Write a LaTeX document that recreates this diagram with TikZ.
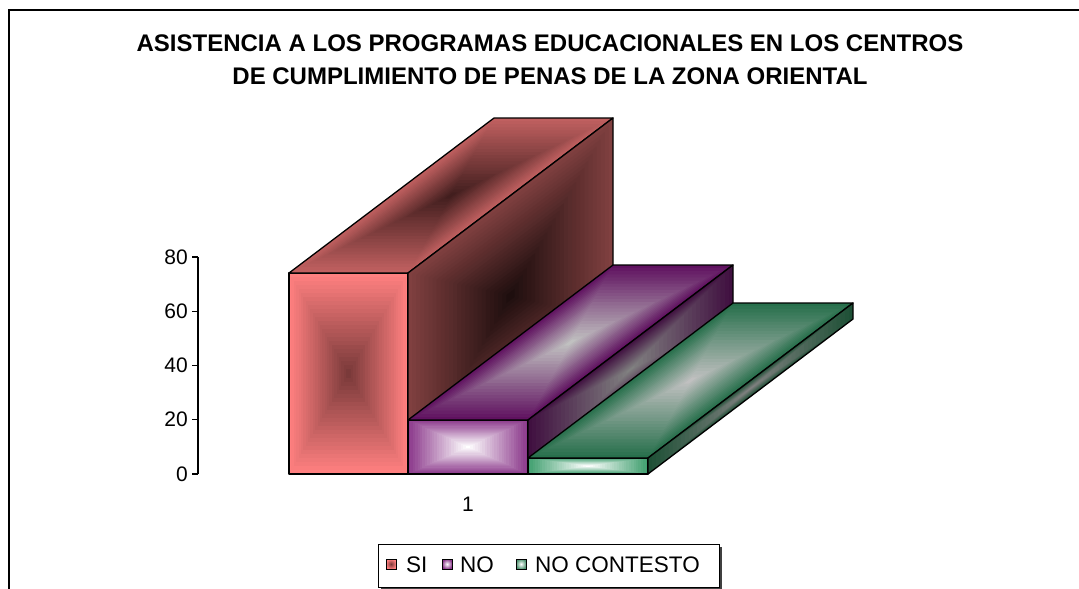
\documentclass[tikz,border=0pt]{standalone}
\usepackage{fontspec}
\setmainfont{Liberation Sans}
\usetikzlibrary{calc}

\definecolor{sifrout}{RGB}{255,128,128}
\definecolor{sifrin}{RGB}{122,58,58}
\definecolor{sitopout}{RGB}{192,96,96}
\definecolor{sitopin}{RGB}{66,30,30}
\definecolor{sisideout}{RGB}{128,64,64}
\definecolor{sisidein}{RGB}{30,14,14}
\definecolor{nofrout}{RGB}{140,58,140}
\definecolor{nofrin}{RGB}{255,255,255}
\definecolor{notopout}{RGB}{96,18,96}
\definecolor{notopin}{RGB}{192,192,192}
\definecolor{nosideout}{RGB}{64,16,64}
\definecolor{nosidein}{RGB}{128,128,128}
\definecolor{ncfrout}{RGB}{66,160,112}
\definecolor{ncfrin}{RGB}{255,255,255}
\definecolor{nctopout}{RGB}{40,112,76}
\definecolor{nctopin}{RGB}{192,192,192}
\definecolor{ncsideout}{RGB}{30,80,54}
\definecolor{ncsidein}{RGB}{128,128,128}

\newcommand{\shadeface}[6]{%
  \coordinate (ctr) at ($(#1)!0.5!(#3)$);
  \foreach \k in {0,...,24}{
    \pgfmathsetmacro{\s}{1-\k/25}
    \pgfmathtruncatemacro{\m}{100*\k/24}
    \fill[#6!\m!#5] ($(ctr)!\s!(#1)$) -- ($(ctr)!\s!(#2)$) -- ($(ctr)!\s!(#3)$) -- ($(ctr)!\s!(#4)$) -- cycle;
  }
  \draw[face] (#1) -- (#2) -- (#3) -- (#4) -- cycle;
}

\begin{document}
\begin{tikzpicture}
[
    x=1pt, y=-1pt,
    face/.style={draw=black, line width=1.3pt, line join=round},
    axisline/.style={line width=1.3pt},
    ticklabel/.style={anchor=east, inner sep=0pt, font=\fontsize{21}{21}\selectfont},
    legendtext/.style={anchor=west, inner sep=0pt, font=\fontsize{22.5}{22.5}\selectfont},
    legendkey/.style={draw=black, line width=0.8pt},
]
\useasboundingbox (0,0) rectangle (1079,589);
\draw[line width=1.6pt] (9,590) -- (9,10) -- (1080,10);

\node [align=center, font=\bfseries\fontsize{24}{33}\selectfont] (title) at (550,60)
{ASISTENCIA A LOS PROGRAMAS EDUCACIONALES EN LOS CENTROS\\DE CUMPLIMIENTO DE PENAS DE LA ZONA ORIENTAL};

\coordinate (ax-top) at (198,257);
\coordinate (ax-bot) at (198,474);
\draw[axisline] (ax-top) -- (ax-bot);
\foreach \v in {0,20,...,80}{
    \draw[axisline] ($(ax-bot)+(0,-2.7125*\v)$) -- ++(-6,0);
    \node[ticklabel] (tick\v) at ($(ax-bot)+(-10,-2.7125*\v)$) {\v};
}

\coordinate (si-a) at (289,474);
\coordinate (si-b) at (408,474);
\coordinate (si-c) at (408,273);
\coordinate (si-d) at (289,273);
\coordinate (si-e) at (613,118);
\coordinate (si-f) at (494,118);
\coordinate (si-g) at (613,319);
\shadeface{si-a}{si-b}{si-c}{si-d}{sifrout}{sifrin}
\shadeface{si-d}{si-c}{si-e}{si-f}{sitopout}{sitopin}
\shadeface{si-b}{si-g}{si-e}{si-c}{sisideout}{sisidein}

\coordinate (no-a) at (408,474);
\coordinate (no-b) at (528,474);
\coordinate (no-c) at (528,420);
\coordinate (no-d) at (408,420);
\coordinate (no-e) at (733,265);
\coordinate (no-f) at (613,265);
\coordinate (no-g) at (733,319);
\shadeface{no-a}{no-b}{no-c}{no-d}{nofrout}{nofrin}
\shadeface{no-d}{no-c}{no-e}{no-f}{notopout}{notopin}
\shadeface{no-b}{no-g}{no-e}{no-c}{nosideout}{nosidein}

\coordinate (nc-a) at (528,474);
\coordinate (nc-b) at (648,474);
\coordinate (nc-c) at (648,458);
\coordinate (nc-d) at (528,458);
\coordinate (nc-e) at (853,303);
\coordinate (nc-f) at (733,303);
\coordinate (nc-g) at (853,319);
\shadeface{nc-a}{nc-b}{nc-c}{nc-d}{ncfrout}{ncfrin}
\shadeface{nc-d}{nc-c}{nc-e}{nc-f}{nctopout}{nctopin}
\shadeface{nc-b}{nc-g}{nc-e}{nc-c}{ncsideout}{ncsidein}

\node[inner sep=0pt, font=\fontsize{21}{21}\selectfont] (cat1) at (468,504) {1};

\fill[black!75] (381,547) rectangle (722,590);
\draw[fill=white, line width=0.9pt] (378,544) rectangle (719,587);
\draw[legendkey, inner color=sifrin, outer color=sifrout] (386,559) rectangle ++(10,10);
\node[legendtext] (leg-si) at (406,565) {SI};
\draw[legendkey, inner color=white, outer color=nofrout] (442,559) rectangle ++(10,10);
\node[legendtext] (leg-no) at (460,565) {NO};
\draw[legendkey, inner color=white, outer color=ncfrout!70!gray] (516,559) rectangle ++(10,10);
\node[legendtext] (leg-nc) at (535,565) {NO CONTESTO};
\end{tikzpicture}
\end{document}
